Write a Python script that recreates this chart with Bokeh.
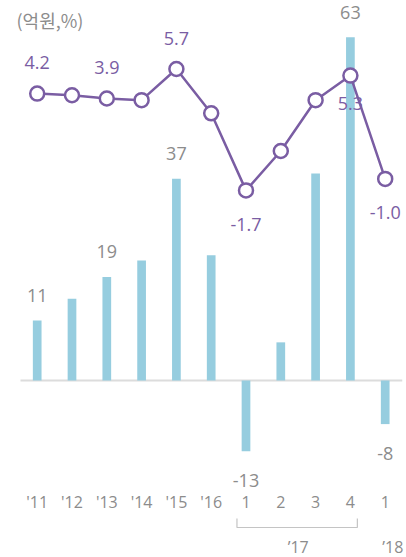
from bokeh.plotting import figure
from bokeh.models import Range1d, ColumnDataSource
from bokeh.core.properties import value
from bokeh.embed import file_html
from bokeh.resources import INLINE

# ---- data ----
categories = ["'11", "'12", "'13", "'14", "'15", "'16", "1", "2", "3", "4", "1"]
profit = [11, 15, 19, 22, 37, 23, -13, 7, 38, 63, -8]          # 억원 (bars)
growth = [4.2, 4.1, 3.9, 3.8, 5.7, 3.0, -1.7, 0.7, 3.8, 5.3, -1.0]  # % (line)
bar_label_idx = [0, 2, 4, 6, 9, 10]
line_label_idx = [0, 2, 4, 6, 9, 10]
group_labels = ["\u201917", "\u201918"]
unit_label = "(억원,%)"

BAR_COLOR = "#96cddf"
LINE_COLOR = "#7a5da3"
GRAY = "#8c8c8c"
NUM_FONT = value("Open Sans")

W, H = 406, 556
x_px0, x_step = 36.7, 34.8            # pixel centre of first category, spacing
bar_zero, bar_scale = 380.0, 5.45     # bars: pixel of 0, px per unit
line_zero, line_scale = 162.0, 16.4   # line: pixel of 0, px per unit

p = figure(width=W, height=H, output_backend="svg", toolbar_location=None,
           x_range=Range1d(-x_px0 / x_step, (W - x_px0) / x_step),
           y_range=Range1d(-(H - bar_zero) / bar_scale, bar_zero / bar_scale),
           min_border=0, outline_line_color=None)
p.extra_y_ranges = {"line": Range1d(-(H - line_zero) / line_scale, line_zero / line_scale)}
p.xaxis.visible = False
p.yaxis.visible = False
p.grid.visible = False
p.background_fill_color = "white"
p.border_fill_color = "white"

xs = list(range(len(categories)))

# baseline
p.segment(x0=[-0.48], y0=[0], x1=[10.49], y1=[0], line_color="#dcdcdc", line_width=2)

# bars
p.vbar(x=xs, top=profit, bottom=0, width=0.25, fill_color=BAR_COLOR, line_color=None)

# bar labels
bl = ColumnDataSource(dict(
    x=[xs[i] for i in bar_label_idx],
    y=[profit[i] for i in bar_label_idx],
    t=[str(profit[i]) for i in bar_label_idx],
    off=[-25 if profit[i] >= 0 else 29 for i in bar_label_idx]))
p.text(x="x", y="y", text="t", y_offset="off", source=bl, text_font=NUM_FONT,
       text_font_size="18px", text_color=GRAY, text_align="center", text_baseline="middle")

# line
p.line(x=xs, y=growth, line_color=LINE_COLOR, line_width=2.5, y_range_name="line")
p.scatter(x=xs, y=growth, size=14, fill_color="white", line_color=LINE_COLOR,
          line_width=2.5, y_range_name="line")

ll_off = []
for i in line_label_idx:
    if i == 9:
        ll_off.append(28)
    elif growth[i] >= 0:
        ll_off.append(-31)
    else:
        ll_off.append(34)
ll = ColumnDataSource(dict(
    x=[xs[i] for i in line_label_idx],
    y=[growth[i] for i in line_label_idx],
    t=["%.1f" % growth[i] for i in line_label_idx],
    off=ll_off))
p.text(x="x", y="y", text="t", y_offset="off", source=ll, text_font=NUM_FONT,
       text_font_size="18px", text_color=LINE_COLOR, text_align="center",
       text_baseline="middle", y_range_name="line")

# category labels
tick_y = -(501 - bar_zero) / bar_scale
p.text(x=xs, y=[tick_y] * len(xs), text=categories, text_font=NUM_FONT,
       text_font_size="16px", text_color=GRAY, text_align="center", text_baseline="middle")

# bracket for '17 quarters
by0 = -(518 - bar_zero) / bar_scale
by1 = -(527 - bar_zero) / bar_scale
p.line(x=[5.74, 5.74, 9.2, 9.2], y=[by0, by1, by1, by0], line_color="#c4c4c4", line_width=1.2)

gy = -(546 - bar_zero) / bar_scale
p.text(x=[7.5, 10.22], y=[gy, gy], text=group_labels, text_font=NUM_FONT,
       text_font_size="16px", text_color=GRAY, text_align="center", text_baseline="middle")

# unit label
p.text(x=[-(x_px0 - 16) / x_step], y=[(bar_zero - 19) / bar_scale], text=[unit_label],
       text_font=value("Noto Sans CJK KR"), text_font_size="18px", text_color=GRAY,
       text_align="left", text_baseline="middle")

open("out.html", "w").write(file_html(p, INLINE))
